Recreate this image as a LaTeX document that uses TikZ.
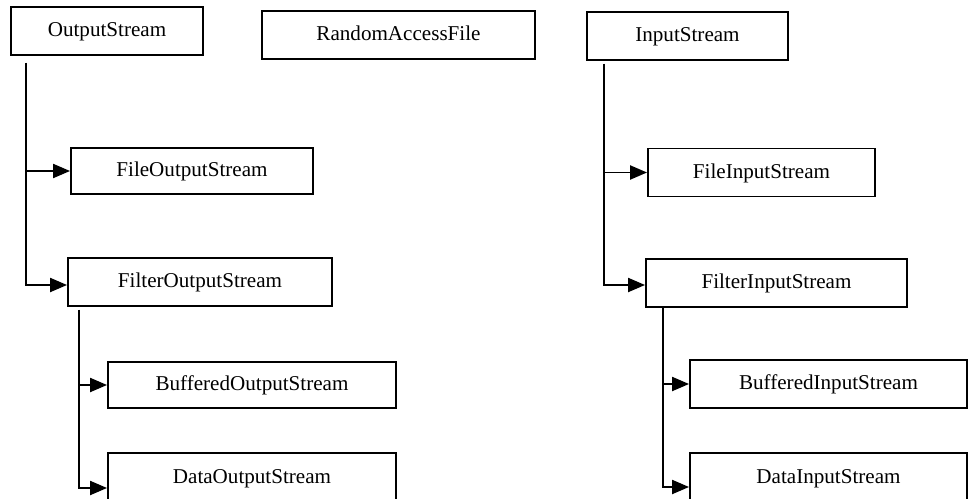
\documentclass[tikz,border=0pt]{standalone}
\usepackage{fontspec}
\setmainfont{Liberation Serif}
\usepackage{tikz}
\usetikzlibrary{arrows.meta, calc}

\begin{document}
\begin{tikzpicture}[
    x=0.025cm, y=-0.025cm,
    cls/.style={draw, line width=1.4pt, inner sep=0pt, minimum width=#1, minimum height=48*0.025cm,
      text height=0.84em, text depth=0pt, font=\fontsize{15}{18}\selectfont},
    arrow/.style={-{Triangle[length=12pt, width=10pt]}, line width=1.2pt},
  ]
  \useasboundingbox (0,0) rectangle (968,499);
  \clip (0,0) rectangle (968,499);

  % Top row
  \node[cls=192*0.025cm] (outs) at (107,31) {OutputStream};
  \node[cls=273*0.025cm] (raf) at (398.5,35) {RandomAccessFile};
  \node[cls=201*0.025cm] (ins) at (687.5,36) {InputStream};

  % Output side
  \node[cls=242*0.025cm, minimum height=46*0.025cm] (fileout) at (192,171) {FileOutputStream};
  \node[cls=264*0.025cm] (filterout) at (200,282) {FilterOutputStream};
  \node[cls=288*0.025cm, minimum height=46*0.025cm] (bufout) at (252,385) {BufferedOutputStream};
  \node[cls=288*0.025cm, minimum height=50*0.025cm] (dataout) at (252,478) {DataOutputStream};

  % Input side
  \node[cls=227*0.025cm] (filein) at (761.5,172.5) {FileInputStream};
  \node[cls=261*0.025cm] (filterin) at (776.5,283) {FilterInputStream};
  \node[cls=277*0.025cm] (bufin) at (828.5,384) {BufferedInputStream};
  \node[cls=277*0.025cm, minimum height=50*0.025cm] (datain) at (828.5,478) {DataInputStream};

  % Branches from OutputStream
  \draw[arrow] ($(outs.south west)+(16,7)$) coordinate (outtrunk) |- (fileout.west);
  \draw[arrow] (outtrunk) |- ($(filterout.west)+(0,3)$);

  % Branches from FilterOutputStream
  \draw[arrow] ($(filterout.south west)+(12,3)$) coordinate (filtertrunk) |- (bufout.west);
  \draw[arrow] (filtertrunk) |- ($(dataout.west)+(0,10)$);

  % Branches from InputStream
  \draw[arrow] ($(ins.south west)+(18,3)$) coordinate (intrunk) |- (filein.west);
  \draw[arrow] (intrunk) |- ($(filterin.west)+(0,2)$);

  % Branches from FilterInputStream
  \draw[arrow] ($(filterin.south west)+(18,0)$) coordinate (filterintrunk) |- (bufin.west);
  \draw[arrow] (filterintrunk) |- ($(datain.west)+(0,9)$);

\end{tikzpicture}
\end{document}
